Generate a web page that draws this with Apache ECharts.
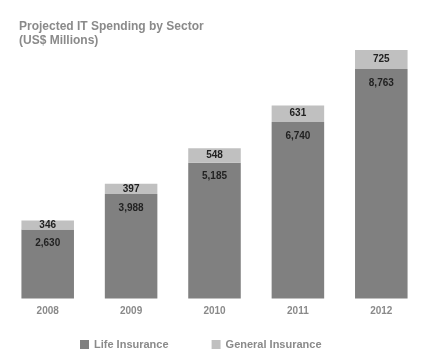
<!DOCTYPE html>
<html><head><meta charset="utf-8">
<script src="https://cdn.jsdelivr.net/npm/echarts@6/dist/echarts.min.js"></script>
<style>html,body{margin:0;padding:0;background:#fff}#c{width:434px;height:361px}</style>
</head><body><div id="c"></div>
<script>
const years = ['2008', '2009', '2010', '2011', '2012'];
const lifeInsurance = [2630, 3988, 5185, 6740, 8763];
const generalInsurance = [346, 397, 548, 631, 725];
const seriesNames = ['Life Insurance', 'General Insurance'];
const fmt = v => v.toLocaleString('en-US');
const FONT = '"Liberation Sans", Arial, sans-serif';
const chart = echarts.init(document.getElementById('c'));
chart.setOption({
  animation: false,
  backgroundColor: '#fff',
  title: {
    text: 'Projected IT Spending by Sector\n(US$ Millions)',
    left: 14, top: 15,
    textStyle: { fontFamily: FONT, fontSize: 12, fontWeight: 'bold', color: '#8a8a8a', lineHeight: 14 }
  },
  legend: {
    left: 75, top: 334, itemWidth: 9, itemHeight: 9, itemGap: 43,
    icon: 'rect',
    textStyle: { fontFamily: FONT, fontSize: 11, fontWeight: 'bold', color: '#8a8a8a' },
    data: seriesNames
  },
  grid: { left: 6, right: 11, top: 36.6, bottom: 62.5 },
  xAxis: {
    type: 'category', data: years,
    axisLine: { show: false }, axisTick: { show: false },
    axisLabel: { fontFamily: FONT, fontSize: 10, fontWeight: 'bold', color: '#8a8a8a', margin: 8 }
  },
  yAxis: { type: 'value', min: 0, max: 10000, show: false, splitLine: { show: false } },
  series: [
    {
      name: seriesNames[0], type: 'bar', stack: 'a', data: lifeInsurance, barWidth: '63%',
      itemStyle: { color: '#808080' },
      label: { show: true, position: 'insideTop', distance: 9, formatter: p => fmt(p.value),
        fontFamily: FONT, fontSize: 10, fontWeight: 'bold', color: '#222' }
    },
    {
      name: seriesNames[1], type: 'bar', stack: 'a', data: generalInsurance, barWidth: '63%',
      itemStyle: { color: '#c0c0c0' },
      label: { show: true, position: 'inside', formatter: p => fmt(p.value),
        fontFamily: FONT, fontSize: 10, fontWeight: 'bold', color: '#222' }
    }
  ]
});
</script></body></html>
